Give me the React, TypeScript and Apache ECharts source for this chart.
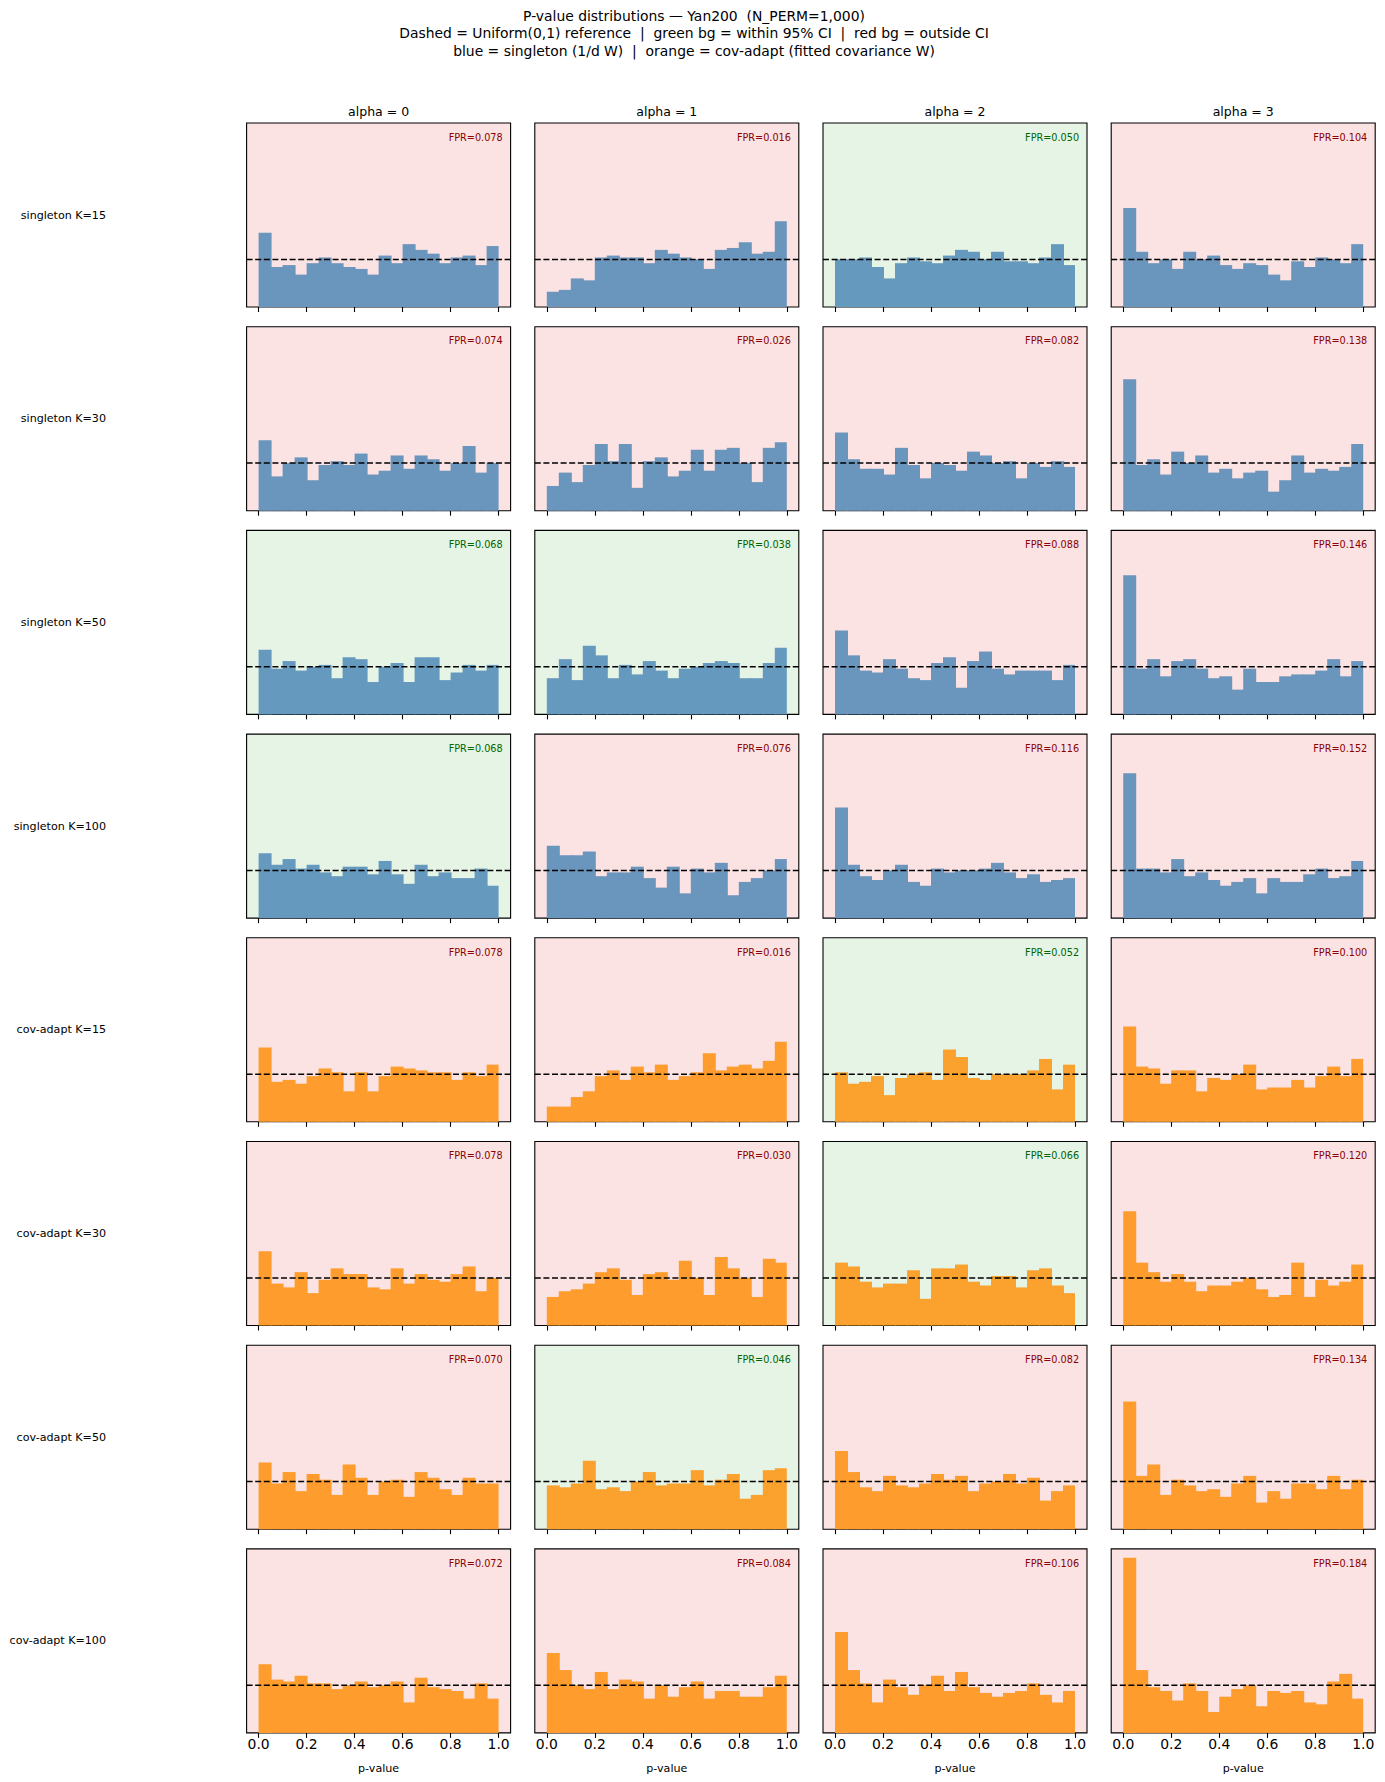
import React, { useEffect, useRef } from "react";
import * as echarts from "echarts";

// ---------------- data ----------------
const N_SAMPLES = 500;
const N_BINS = 20;
const alphaLabels = ["alpha = 0", "alpha = 1", "alpha = 2", "alpha = 3"];
const rowLabels = [
  "singleton K=15",
  "singleton K=30",
  "singleton K=50",
  "singleton K=100",
  "cov-adapt K=15",
  "cov-adapt K=30",
  "cov-adapt K=50",
  "cov-adapt K=100",
];
const rowMethod = ["singleton", "singleton", "singleton", "singleton", "cov", "cov", "cov", "cov"];
const xTicks = [0, 0.2, 0.4, 0.6, 0.8, 1.0];
const titleLines = [
  "P-value distributions \u2014 Yan200  (N_PERM=1,000)",
  "Dashed = Uniform(0,1) reference  |  green bg = within 95% CI  |  red bg = outside CI",
  "blue = singleton (1/d W)  |  orange = cov-adapt (fitted covariance W)",
];
// 95% CI for FPR under null (green background when inside)
const CI_LOW = 0.031;
const CI_HIGH = 0.069;

// histogram counts (20 bins over [0,1]) per alpha column
const singletonK15 = [
  [39, 21, 22, 17, 23, 26, 23, 21, 20, 17, 27, 23, 33, 30, 28, 23, 26, 27, 22, 32],
  [8, 9, 15, 14, 26, 27, 26, 26, 23, 30, 28, 26, 25, 20, 30, 31, 34, 28, 29, 45],
  [25, 25, 26, 21, 15, 23, 26, 24, 23, 27, 30, 29, 25, 29, 24, 24, 23, 26, 33, 22],
  [52, 29, 23, 25, 20, 29, 25, 27, 22, 20, 23, 22, 17, 14, 24, 21, 26, 25, 23, 33],
];
const singletonK30 = [
  [37, 18, 25, 28, 16, 24, 26, 24, 30, 19, 21, 29, 22, 29, 27, 21, 25, 34, 20, 25],
  [13, 20, 15, 24, 35, 26, 35, 12, 26, 28, 18, 21, 32, 21, 32, 33, 25, 15, 33, 36],
  [41, 27, 22, 22, 19, 33, 24, 17, 25, 24, 21, 31, 29, 25, 26, 17, 25, 23, 26, 23],
  [69, 24, 27, 19, 31, 25, 29, 20, 22, 17, 20, 21, 10, 16, 29, 20, 22, 21, 23, 35],
];
const singletonK50 = [
  [34, 24, 28, 23, 25, 26, 19, 30, 29, 17, 25, 27, 17, 30, 30, 18, 22, 26, 23, 26],
  [19, 29, 18, 36, 31, 19, 26, 21, 28, 23, 19, 24, 25, 27, 28, 27, 19, 19, 27, 35],
  [44, 31, 23, 22, 29, 24, 19, 18, 27, 30, 14, 28, 33, 24, 21, 23, 23, 23, 18, 26],
  [73, 24, 29, 20, 28, 29, 24, 19, 20, 13, 24, 17, 17, 20, 21, 21, 23, 29, 20, 28],
];
const singletonK100 = [
  [34, 28, 31, 26, 28, 24, 22, 27, 27, 23, 30, 23, 18, 28, 22, 24, 21, 21, 26, 17],
  [38, 33, 33, 35, 22, 24, 24, 27, 21, 16, 27, 13, 26, 24, 29, 12, 19, 21, 25, 31],
  [58, 28, 22, 20, 25, 28, 19, 17, 26, 24, 25, 25, 26, 29, 24, 21, 23, 19, 20, 21],
  [76, 26, 26, 24, 31, 22, 24, 20, 17, 19, 21, 13, 21, 19, 19, 23, 26, 21, 22, 30],
];
const covAdaptK15 = [
  [39, 21, 22, 20, 24, 28, 26, 16, 26, 16, 24, 29, 28, 27, 26, 26, 22, 26, 24, 30],
  [8, 8, 13, 16, 24, 27, 22, 29, 26, 30, 22, 24, 26, 36, 27, 29, 30, 28, 32, 42],
  [26, 20, 21, 24, 14, 23, 25, 26, 22, 38, 34, 23, 22, 25, 25, 25, 27, 33, 17, 30],
  [50, 29, 28, 20, 27, 27, 16, 23, 22, 25, 30, 17, 18, 18, 22, 18, 24, 29, 24, 33],
];
const covAdaptK30 = [
  [39, 22, 20, 28, 17, 24, 30, 27, 27, 20, 19, 30, 22, 27, 24, 23, 27, 31, 18, 25],
  [15, 18, 19, 22, 28, 30, 24, 16, 27, 28, 24, 34, 25, 16, 36, 30, 25, 15, 35, 33],
  [33, 31, 23, 20, 22, 22, 29, 14, 30, 30, 32, 23, 21, 26, 26, 20, 29, 30, 21, 17],
  [60, 33, 28, 23, 27, 23, 18, 21, 21, 23, 25, 19, 15, 16, 33, 15, 24, 21, 23, 32],
];
const covAdaptK50 = [
  [35, 24, 30, 20, 29, 26, 18, 34, 27, 18, 25, 26, 17, 30, 27, 21, 18, 27, 24, 24],
  [23, 22, 24, 36, 21, 22, 20, 25, 30, 23, 24, 24, 31, 23, 26, 29, 16, 18, 31, 32],
  [41, 30, 22, 20, 28, 23, 22, 24, 29, 26, 28, 20, 24, 25, 29, 24, 27, 15, 20, 23],
  [67, 28, 34, 18, 26, 23, 20, 21, 17, 24, 28, 14, 20, 16, 24, 24, 21, 28, 21, 26],
];
const covAdaptK100 = [
  [36, 28, 27, 30, 26, 26, 23, 25, 27, 24, 25, 27, 16, 29, 24, 23, 22, 18, 26, 18],
  [42, 33, 25, 23, 32, 23, 28, 27, 18, 25, 19, 24, 27, 18, 22, 22, 19, 19, 24, 30],
  [53, 33, 26, 16, 28, 24, 20, 25, 30, 22, 32, 24, 21, 19, 21, 22, 26, 20, 16, 22],
  [92, 33, 24, 22, 17, 26, 22, 11, 19, 23, 25, 14, 22, 21, 22, 16, 15, 27, 31, 18],
];
const histRows = [
  singletonK15, singletonK30, singletonK50, singletonK100,
  covAdaptK15, covAdaptK30, covAdaptK50, covAdaptK100,
];

const fprSingletonK15 = [0.078, 0.016, 0.05, 0.104];
const fprSingletonK30 = [0.074, 0.026, 0.082, 0.138];
const fprSingletonK50 = [0.068, 0.038, 0.088, 0.146];
const fprSingletonK100 = [0.068, 0.076, 0.116, 0.152];
const fprCovAdaptK15 = [0.078, 0.016, 0.052, 0.1];
const fprCovAdaptK30 = [0.078, 0.03, 0.066, 0.12];
const fprCovAdaptK50 = [0.07, 0.046, 0.082, 0.134];
const fprCovAdaptK100 = [0.072, 0.084, 0.106, 0.184];
const fprRows = [
  fprSingletonK15, fprSingletonK30, fprSingletonK50, fprSingletonK100,
  fprCovAdaptK15, fprCovAdaptK30, fprCovAdaptK50, fprCovAdaptK100,
];

// ---------------- layout / style ----------------
const FIG_W = 1385;
const FIG_H = 1782;
const PANEL_LEFT = 246.6;
const PANEL_STEP_X = 288.2;
const PANEL_W = 264;
const PANEL_TOP = 123;
const PANEL_STEP_Y = 203.7;
const PANEL_H = 184;
const X_MIN = -0.05;
const X_MAX = 1.05;
const FONT = "DejaVu Sans";

const BG_RED: [number, number, number] = [252, 227, 227];
const BG_GREEN: [number, number, number] = [230, 244, 230];
const STEELBLUE: [number, number, number] = [70, 130, 180];
const DARKORANGE: [number, number, number] = [255, 140, 0];
const BAR_ALPHA = 0.8;

function rgb(c: number[]) {
  return `rgb(${c.map((v) => Math.round(v)).join(",")})`;
}
function blend(fg: number[], bg: number[], a: number) {
  return fg.map((v, i) => v * a + bg[i] * (1 - a));
}

function buildOption() {
  const binW = 1 / N_BINS;
  const toDensity = (c: number) => c / (N_SAMPLES * binW);
  let maxD = 0;
  histRows.forEach((r) => r.forEach((p) => p.forEach((c) => (maxD = Math.max(maxD, toDensity(c))))));
  const yMax = maxD * 1.05;

  const grids: any[] = [];
  const xAxes: any[] = [];
  const yAxes: any[] = [];
  const series: any[] = [];
  const graphics: any[] = [];

  titleLines.forEach((t, i) => {
    graphics.push({
      type: "text",
      x: 694,
      y: 15.7 + i * 17.6,
      style: {
        text: t,
        fill: "#000",
        fontSize: 13.9,
        fontFamily: FONT,
        textAlign: "center",
        textVerticalAlign: "middle",
      },
    });
  });

  alphaLabels.forEach((t, c) => {
    graphics.push({
      type: "text",
      x: PANEL_LEFT + c * PANEL_STEP_X + PANEL_W / 2,
      y: 111,
      style: {
        text: t,
        fill: "#000",
        fontSize: 12.5,
        fontFamily: FONT,
        textAlign: "center",
        textVerticalAlign: "middle",
      },
    });
  });

  histRows.forEach((row, r) => {
    const top = PANEL_TOP + r * PANEL_STEP_Y;
    graphics.push({
      type: "text",
      x: 106,
      y: top + PANEL_H / 2,
      style: {
        text: rowLabels[r],
        fill: "#000",
        fontSize: 11.1,
        fontFamily: FONT,
        textAlign: "right",
        textVerticalAlign: "middle",
      },
    });
    const isBottom = r === histRows.length - 1;
    row.forEach((counts, c) => {
      const idx = grids.length;
      const left = PANEL_LEFT + c * PANEL_STEP_X;
      const fpr = fprRows[r][c];
      const ok = fpr >= CI_LOW && fpr <= CI_HIGH;
      const bg = ok ? BG_GREEN : BG_RED;
      const base = rowMethod[r] === "singleton" ? STEELBLUE : DARKORANGE;
      const barColor = rgb(blend(base, bg, BAR_ALPHA));

      grids.push({
        left,
        top,
        width: PANEL_W,
        height: PANEL_H,
        show: true,
        backgroundColor: rgb(bg),
        borderColor: "#000",
        borderWidth: 1.1,
        containLabel: false,
      });
      xAxes.push({
        type: "value",
        gridIndex: idx,
        min: X_MIN,
        max: X_MAX,
        axisLine: { show: false },
        splitLine: { show: false },
        axisTick: {
          show: true,
          length: 5,
          customValues: xTicks,
          lineStyle: { color: "#000", width: 1.1 },
        },
        axisLabel: {
          show: isBottom,
          customValues: xTicks,
          formatter: (v: number) => v.toFixed(1),
          fontSize: 13.9,
          fontFamily: FONT,
          color: "#000",
          margin: 4,
        },
        name: isBottom ? "p-value" : "",
        nameLocation: "middle",
        nameGap: 30,
        nameTextStyle: { fontSize: 11.1, fontFamily: FONT, color: "#000" },
      });
      yAxes.push({
        type: "value",
        gridIndex: idx,
        min: 0,
        max: yMax,
        show: false,
        splitLine: { show: false },
      });

      const data = counts.map((cnt, k) => [k * binW, (k + 1) * binW, toDensity(cnt)]);
      const lastStart = (N_BINS - 1) * binW;
      series.push({
        type: "custom",
        xAxisIndex: idx,
        yAxisIndex: idx,
        silent: true,
        z: 2,
        encode: { x: [0, 1], y: 2 },
        data,
        renderItem: (params: any, api: any) => {
          const s = api.value(0);
          const e = api.value(1);
          const h = api.value(2);
          const bl = api.coord([s, 0]);
          const tr = api.coord([e, h]);
          const overlap = s < lastStart - 1e-9 ? 1 : 0;
          return {
            type: "rect",
            shape: {
              x: bl[0],
              y: tr[1],
              width: tr[0] - bl[0] + overlap,
              height: bl[1] - tr[1],
            },
            style: { fill: barColor },
          };
        },
      });
      series.push({
        type: "line",
        xAxisIndex: idx,
        yAxisIndex: idx,
        silent: true,
        z: 3,
        symbol: "none",
        data: [
          [X_MIN, 1],
          [X_MAX, 1],
        ],
        lineStyle: { color: "#000", width: 1.5, type: [6, 2.6] },
      });

      graphics.push({
        type: "text",
        x: left + PANEL_W * 0.97,
        y: top + PANEL_H * 0.05,
        z: 10,
        style: {
          text: "FPR=" + fpr.toFixed(3),
          fill: ok ? "#006400" : "#8b0000",
          fontSize: 9.7,
          fontFamily: FONT,
          textAlign: "right",
          textVerticalAlign: "top",
        },
      });
    });
  });

  return {
    animation: false,
    backgroundColor: "#fff",
    textStyle: { fontFamily: FONT },
    grid: grids,
    xAxis: xAxes,
    yAxis: yAxes,
    series,
    graphic: { elements: graphics },
  };
}

export default function App() {
  const ref = useRef<HTMLDivElement>(null);
  useEffect(() => {
    if (!ref.current) return;
    const chart = echarts.init(ref.current, null, {
      renderer: "svg",
      width: FIG_W,
      height: FIG_H,
    });
    chart.setOption(buildOption() as any);
    return () => chart.dispose();
  }, []);
  return (
    <div
      ref={ref}
      style={{
        position: "absolute",
        left: 0,
        top: 0,
        width: FIG_W,
        height: FIG_H,
        background: "#fff",
      }}
    />
  );
}
